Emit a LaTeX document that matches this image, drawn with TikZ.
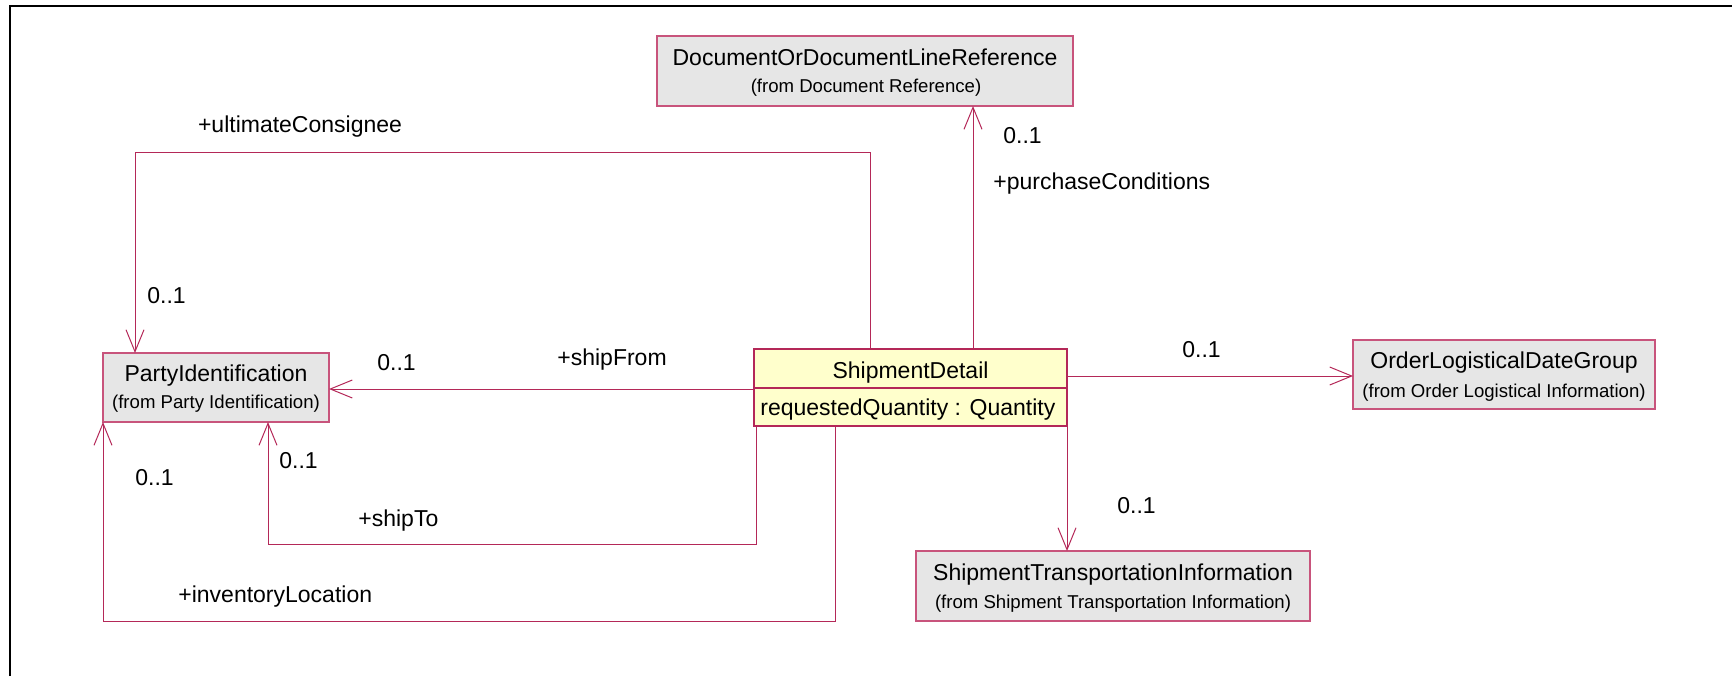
\documentclass[tikz,border=0pt]{standalone}
\usepackage{fontspec}
\setmainfont{Liberation Sans}
\usetikzlibrary{arrows.meta}
\definecolor{linkred}{RGB}{180,40,88}
\definecolor{boxred}{RGB}{200,84,124}
\definecolor{boxgrey}{RGB}{230,230,230}
\definecolor{boxyellow}{RGB}{255,255,204}
\newcommand{\ttl}{\fontsize{11.5}{13}\selectfont}
\newcommand{\subf}{\fontsize{9.3}{11}\selectfont}
\tikzset{
  cls/.style={draw=boxred, line width=0.85pt, fill=boxgrey, inner sep=0pt, outer sep=0pt},
  clsy/.style={cls, fill=boxyellow, draw=linkred},
  ttext/.style={anchor=base, inner sep=0pt, font=\ttl},
  stext/.style={anchor=base, inner sep=0pt, font=\subf},
  lbl/.style={anchor=base west, inner sep=0pt, font=\ttl},
  assoc/.style={draw=linkred, line width=0.5pt, -{Straight Barb[length=11pt,width=9pt,line width=0.5pt]}},
}
\begin{document}
\begin{tikzpicture}[x=0.5pt,y=-0.5pt]
\useasboundingbox (0,0) rectangle (1732,676);
\draw[line width=1pt, black] (10,676) -- (10,6) -- (1740,6);

% boxes
\node[cls, minimum width=208pt, minimum height=35pt] (dr) at (865,71) {};
\node[ttext] (drt) at (865,65) {DocumentOrDocumentLineReference};
\node[stext] (drs) at (866,92) {(from Document Reference)};

\node[cls, minimum width=113pt, minimum height=34.5pt] (pi) at (216,387.5) {};
\node[ttext] (pit) at (216,381) {PartyIdentification};
\node[stext] (pis) at (216,408) {(from Party Identification)};

\node[clsy, minimum width=156.5pt, minimum height=38.5pt] (sd) at (910.5,387.5) {};
\draw[draw=linkred, line width=0.85pt] (sd.west |- 0,388) coordinate (sdl) -- (sd.east |- sdl) coordinate (sdr);
\node[ttext] (sdt) at (910.5,378) {ShipmentDetail};
\node[lbl] (sda) at (760,415) {requestedQuantity : Quantity};

\node[cls, minimum width=151pt, minimum height=34.5pt] (ol) at (1504,374.5) {};
\node[ttext] (olt) at (1504,368) {OrderLogisticalDateGroup};
\node[stext] (ols) at (1504,397) {(from Order Logistical Information)};

\node[cls, minimum width=197pt, minimum height=35pt] (st) at (1113,586) {};
\node[ttext] (stt) at (1113,580) {ShipmentTransportationInformation};
\node[stext] (sts) at (1113,608) {(from Shipment Transportation Information)};

% helper coordinates
\coordinate (xuc) at (870,0);
\coordinate (yuc) at (0,152);
\coordinate (xucl) at (135,0);
\coordinate (xpc) at (973,0);
\coordinate (ysf) at (0,389);
\coordinate (xto) at (756,0);
\coordinate (yto) at (0,544);
\coordinate (xtol) at (268,0);
\coordinate (xin) at (835,0);
\coordinate (yin) at (0,621);
\coordinate (xinl) at (103,0);
\coordinate (yol) at (0,376);
\coordinate (xst) at (1067,0);

% connectors
\draw[assoc] (xuc |- sd.north) -- (xuc |- yuc) -- (xucl |- yuc) -- (xucl |- pi.north);
\draw[assoc] (xpc |- sd.north) -- (xpc |- dr.south);
\draw[assoc] (sd.west |- ysf) -- (pi.east |- ysf);
\draw[assoc] (xto |- sd.south) -- (xto |- yto) -- (xtol |- yto) -- (xtol |- pi.south);
\draw[assoc] (xin |- sd.south) -- (xin |- yin) -- (xinl |- yin) -- (xinl |- pi.south);
\draw[assoc] (sd.east |- yol) -- (ol.west |- yol);
\draw[assoc] (xst |- sd.south) -- (xst |- st.north);

% labels
\node[ttext] (luc) at (300,132) {+ultimateConsignee};
\node[lbl] (muc) at (147,303) {0..1};
\node[lbl] (mpc) at (1003,143) {0..1};
\node[lbl] (lpc) at (993,189) {+purchaseConditions};
\node[lbl] (msf) at (377,370) {0..1};
\node[lbl] (lsf) at (557,365) {+shipFrom};
\node[lbl] (min) at (135,485) {0..1};
\node[lbl] (mto) at (279,468) {0..1};
\node[lbl] (lto) at (358,526) {+shipTo};
\node[lbl] (lin) at (178,602) {+inventoryLocation};
\node[lbl] (mol) at (1182,357) {0..1};
\node[lbl] (mst) at (1117,513) {0..1};
\end{tikzpicture}
\end{document}
